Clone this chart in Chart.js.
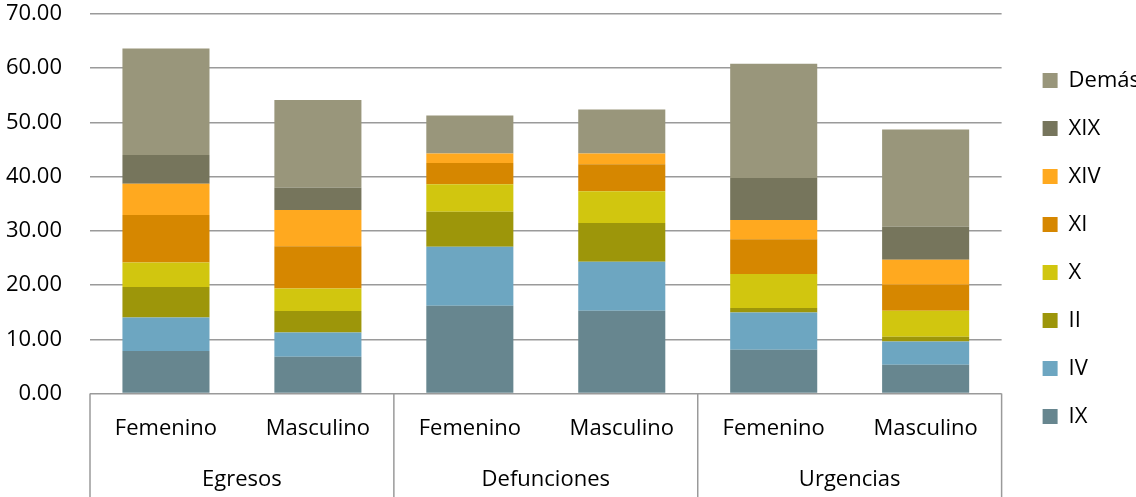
<!DOCTYPE html>
<html>
<head>
<meta charset="utf-8">
<script src="https://cdn.jsdelivr.net/npm/chart.js@4/dist/chart.umd.min.js"></script>
<style>
  body { margin: 0; background: #fff; }
  canvas { display: block; }
</style>
</head>
<body>
<canvas id="chart0" width="1136" height="497"></canvas>
<script>
// sub categories (bars) and their groups
const subLabels = ["Femenino", "Masculino", "Femenino", "Masculino", "Femenino", "Masculino"];
const groups = ["Egresos", "Egresos", "Defunciones", "Defunciones", "Urgencias", "Urgencias"];

// series, bottom to top of each stack
const seriesNames = ["IX", "IV", "II", "X", "XI", "XIV", "XIX", "Demás"];
const IX    = [7.83, 6.77, 16.19, 15.27, 8.07, 5.30];
const IV    = [6.20, 4.49, 10.89, 9.04, 6.88, 4.30];
const II    = [5.61, 3.95, 6.46, 7.13, 0.82, 0.87];
const X     = [4.54, 4.17, 5.04, 5.85, 6.27, 4.80];
const XI    = [8.75, 7.76, 3.93, 4.98, 6.39, 4.80];
const XIV   = [5.78, 6.72, 1.74, 1.98, 3.58, 4.61];
const XIX   = [5.30, 4.11, 0, 0, 7.75, 6.09];
const Demas = [19.62, 16.19, 7.01, 8.12, 21.05, 17.91];

const yTicks = [0, 10, 20, 30, 40, 50, 60, 70];

const seriesData = [IX, IV, II, X, XI, XIV, XIX, Demas];
const seriesColors = ["#67868f", "#6da6c1", "#9d960a", "#d1c60f", "#d68700", "#ffa91f", "#76755c", "#99967b"];

const FONT = "'Open Sans', sans-serif";
const gridCol = "#9a9a9a";

var datasets = [];
for (i = 0; i < seriesNames.length; i++) {
    datasets.push({
        label: seriesNames[i],
        data: seriesData[i],
        backgroundColor: seriesColors[i],
        borderWidth: 0,
        categoryPercentage: 1.0,
        barPercentage: 0.573
    });
}

// draws the group row under the sub labels plus the separators
const groupAxis = {
    id: "groupAxis",
    afterLayout(chart) {
        // push legend a bit away from plot area
        chart.legend.left += 15;
        chart.legend.right += 15;
    },
    afterDraw(chart) {
        const ctx = chart.ctx;
        const xs = chart.scales.x;
        const bottom = chart.height;
        ctx.save();
        ctx.strokeStyle = gridCol;
        ctx.lineWidth = 1.5;
        // separators at group edges
        var edges = [xs.left];
        for (i = 1; i < groups.length; i++) {
            if (groups[i] !== groups[i - 1])
                edges.push((xs.getPixelForValue(i - 1) + xs.getPixelForValue(i)) / 2);
        }
        edges.push(xs.right);
        edges.forEach(function (x) {
            ctx.beginPath();
            ctx.moveTo(x, xs.top);
            ctx.lineTo(x, bottom);
            ctx.stroke();
        });
        // group names
        ctx.fillStyle = "#000";
        ctx.font = "22px " + FONT;
        ctx.textAlign = "center";
        ctx.textBaseline = "middle";
        var start = 0;
        for (i = 1; i <= groups.length; i++) {
            if (i === groups.length || groups[i] !== groups[start]) {
                const cx = (xs.getPixelForValue(start) + xs.getPixelForValue(i - 1)) / 2;
                ctx.fillText(groups[start], cx, xs.top + 86);
                start = i;
            }
        }
        ctx.restore();
    }
};

var ctx = document.getElementById("chart0").getContext("2d");
var chart = new Chart(ctx, {
    type: "bar",
    data: { labels: subLabels, datasets: datasets },
    options: {
        responsive: false,
        animation: false,
        layout: { padding: { left: 6, right: 1, top: 0, bottom: 0 } },
        plugins: {
            legend: {
                position: "right",
                reverse: true,
                labels: {
                    boxWidth: 15,
                    boxHeight: 15,
                    padding: 26,
                    color: "#000",
                    font: { family: FONT, size: 22 }
                }
            },
            tooltip: { enabled: false }
        },
        scales: {
            x: {
                stacked: true,
                grid: { display: false },
                border: { display: false },
                ticks: {
                    color: "#000",
                    font: { family: FONT, size: 22 },
                    padding: 14,
                    maxRotation: 0,
                    autoSkip: false
                },
                afterFit: function (scale) {
                    scale.height = 103.5;
                    scale.paddingLeft = 0;
                    scale.paddingRight = 0;
                }
            },
            y: {
                stacked: true,
                min: 0,
                max: 70,
                afterBuildTicks: function (scale) {
                    scale.ticks = yTicks.map(function (v) { return { value: v }; });
                },
                ticks: {
                    color: "#000",
                    font: { family: FONT, size: 22 },
                    padding: 28,
                    callback: function (v) { return Number(v).toFixed(2); }
                },
                grid: { color: gridCol, lineWidth: 1.5, drawTicks: false },
                border: { display: false },
                afterFit: function (scale) {
                    scale.width = 84;
                    scale.paddingTop = 14;
                    scale.paddingBottom = 0;
                }
            }
        }
    },
    plugins: [groupAxis]
});
</script>
</body>
</html>
